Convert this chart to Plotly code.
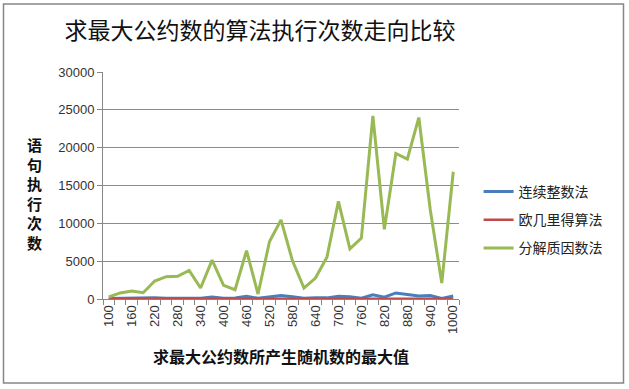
import plotly.graph_objects as go

x_values = list(range(100, 1001, 30))
consecutive = [50, 80, 100, 80, 150, 100, 100, 120, 100, 250, 100, 120, 350, 100, 250, 450,
               300, 100, 150, 150, 350, 300, 100, 550, 250, 800, 600, 400, 450, 80, 400]
euclid = [20, 25, 25, 25, 30, 30, 30, 30, 30, 35, 30, 35, 35, 30, 35, 40,
          35, 30, 35, 35, 40, 40, 35, 45, 40, 45, 45, 45, 45, 30, 45]
prime_factor = [260, 800, 1050, 830, 2370, 2950, 3000, 3780, 1450, 5140, 1800, 1230, 6400, 660,
                7600, 10450, 5050, 1450, 2770, 5530, 12900, 6630, 8040, 24200, 9220, 19230,
                18490, 23980, 11770, 2100, 16820]
series_names = ["连续整数法", "欧几里得算法", "分解质因数法"]
series_colors = ["#4A7EBB", "#BE4B48", "#98B954"]
tick_labels = list(range(100, 1001, 60))
y_ticks = [0, 5000, 10000, 15000, 20000, 25000, 30000]

cjk = "Noto Sans CJK SC"
fig = go.Figure()
for i, (name, vals, col) in enumerate(zip(series_names, [consecutive, euclid, prime_factor], series_colors)):
    fig.add_trace(go.Scatter(x=x_values, y=vals, mode="lines", name=name,
                             line=dict(color=col, width=3 if i != 1 else 2.5),
                             legendgroup=f"g{i}"))

W, H = 629, 389
ml, mr, mt, mb = 103, 170, 72, 90
pw, ph = W - ml - mr, H - mt - mb

def px_x(p):
    return (p - ml) / pw

def px_y(p):
    return (H - mb - p) / ph

fig.update_layout(
    width=W, height=H,
    margin=dict(l=ml, r=mr, t=mt, b=mb, pad=0),
    paper_bgcolor="white", plot_bgcolor="white",
    showlegend=True,
    legend=dict(x=1.055, y=px_y(220), xanchor="left", yanchor="middle",
                font=dict(family=cjk, size=14, color="#222222"),
                tracegroupgap=7, bgcolor="rgba(0,0,0,0)"),
    xaxis=dict(range=[85, 1015], tickmode="array", tickvals=tick_labels,
               ticktext=[str(v) for v in tick_labels], tickangle=-90,
               ticks="", showgrid=False, zeroline=False,
               showline=True, linecolor="#868686", linewidth=1,
               tickfont=dict(family="Liberation Sans", size=13, color="#333333"),
               minor=dict(tick0=85, dtick=30, ticks="outside", ticklen=5,
                          tickcolor="#868686", showgrid=False),
               title=dict(text="<b>求最大公约数所产生随机数的最大值</b>",
                          font=dict(family=cjk, size=16, color="#111111"), standoff=18)),
    yaxis=dict(range=[0, 30000], tickmode="array", tickvals=y_ticks,
               ticktext=[str(v) for v in y_ticks], ticks="outside", ticklen=5,
               tickcolor="#868686", showgrid=True, gridcolor="#8C8C8C", gridwidth=1,
               zeroline=False, showline=True, linecolor="#868686", linewidth=1,
               tickfont=dict(family="Liberation Sans", size=13, color="#333333")),
    title=dict(text="求最大公约数的算法执行次数走向比较", x=260 / W, xanchor="center",
               y=1 - 31 / H, yanchor="middle",
               font=dict(family=cjk, size=23, color="#111111")),
)

fig.add_annotation(text="<b>语<br>句<br>执<br>行<br>次<br>数</b>", xref="paper", yref="paper",
                   x=px_x(34), y=px_y(193), xanchor="center", yanchor="middle",
                   showarrow=False, font=dict(family=cjk, size=15, color="#111111"))

fig.add_shape(type="rect", xref="paper", yref="paper",
              x0=px_x(3.5), x1=px_x(623.5), y0=px_y(383), y1=px_y(4),
              line=dict(color="#868686", width=1.5), fillcolor="rgba(0,0,0,0)", layer="below")

fig.write_html("out.html", config={"displayModeBar": False},
               post_script="document.body.style.margin='0';")
